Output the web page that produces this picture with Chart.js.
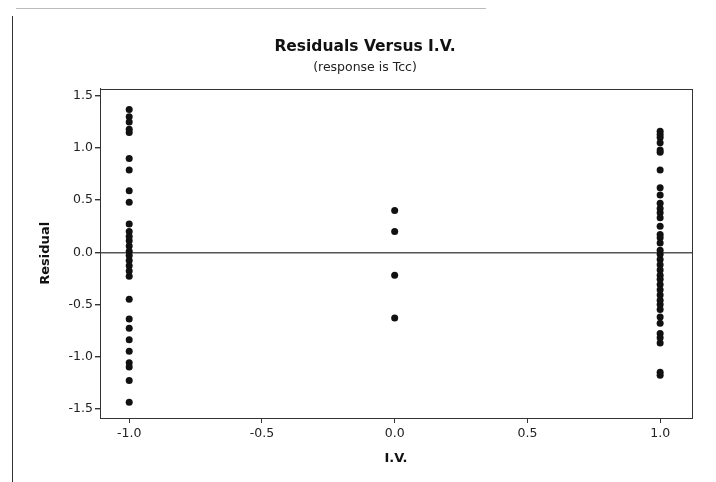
<!DOCTYPE html>
<html>
<head>
<meta charset="utf-8">
<script src="https://cdn.jsdelivr.net/npm/chart.js@4/dist/chart.umd.min.js"></script>
<style>
  html, body { margin: 0; padding: 0; background: #fff; }
  #wrap { position: relative; width: 716px; height: 482px; }
  #frameLeft { position: absolute; left: 12px; top: 16px; width: 0; height: 466px; border-left: 1px solid #333; }
  #frameTop { position: absolute; left: 16px; top: 8px; width: 470px; height: 0; border-top: 1px solid #bbb; }
  canvas { position: absolute; left: 0; top: 0; }
</style>
</head>
<body>
<div id="wrap">
  <canvas id="c" width="716" height="482"></canvas>
  <div id="frameLeft"></div>
  <div id="frameTop"></div>
</div>
<script>
// Factor levels of I.V. and the residuals observed at each level
const ivLevels = [-1, 0, 1];
const residAtMinus1 = [1.37, 1.30, 1.25, 1.18, 1.15, 0.90, 0.79, 0.59, 0.48, 0.27, 0.20, 0.15, 0.11,
  0.06, 0.01, -0.03, -0.08, -0.13, -0.18, -0.23, -0.45, -0.64, -0.73, -0.84, -0.95, -1.06, -1.10,
  -1.23, -1.44];
const residAtZero = [0.40, 0.20, -0.22, -0.63];
const residAtPlus1 = [1.16, 1.13, 1.10, 1.05, 0.98, 0.96, 0.79, 0.62, 0.55, 0.47, 0.42, 0.38, 0.33,
  0.25, 0.17, 0.14, 0.09, 0.02, -0.02, -0.07, -0.12, -0.17, -0.22, -0.26, -0.31, -0.36, -0.41,
  -0.46, -0.50, -0.55, -0.62, -0.68, -0.78, -0.82, -0.87, -1.15, -1.18];
const xTickValues = [-1.0, -0.5, 0.0, 0.5, 1.0];
const yTickValues = [-1.5, -1.0, -0.5, 0.0, 0.5, 1.0, 1.5];

const residualGroups = [residAtMinus1, residAtZero, residAtPlus1];
const points = [];
residualGroups.forEach((group, i) => {
  group.forEach(r => points.push({ x: ivLevels[i], y: r }));
});

const FONT = '"DejaVu Sans", Verdana, sans-serif';

// Box around the plotting region
const plotFrame = {
  id: 'plotFrame',
  afterDraw(chart) {
    const a = chart.chartArea, ctx = chart.ctx;
    ctx.save();
    ctx.strokeStyle = '#333';
    ctx.lineWidth = 1;
    ctx.strokeRect(Math.round(a.left) + 0.5, Math.round(a.top) + 0.5,
      Math.round(a.right - a.left), Math.round(a.bottom - a.top));
    ctx.restore();
  }
};

new Chart(document.getElementById('c'), {
  type: 'scatter',
  data: {
    datasets: [{
      data: points,
      pointRadius: 3.5,
      pointHoverRadius: 3.5,
      pointBackgroundColor: '#111',
      pointBorderColor: '#111',
      pointBorderWidth: 0
    }]
  },
  options: {
    responsive: false,
    animation: false,
    layout: { padding: { left: 38, right: 24, top: 30, bottom: 0 } },
    plugins: {
      legend: { display: false },
      tooltip: { enabled: false },
      title: {
        display: true,
        text: 'Residuals Versus I.V.',
        color: '#111',
        font: { family: FONT, size: 15.5, weight: 'bold' },
        padding: { top: 8, bottom: 2 }
      },
      subtitle: {
        display: true,
        text: '(response is Tcc)',
        color: '#222',
        font: { family: FONT, size: 12.5 },
        padding: { top: 2, bottom: 13 }
      }
    },
    scales: {
      x: {
        type: 'linear',
        min: -1.11,
        max: 1.12,
        afterBuildTicks: s => { s.ticks = xTickValues.map(v => ({ value: v })); },
        afterFit: s => { s.height = 64; },
        border: { display: true, color: '#333', width: 1 },
        grid: { drawOnChartArea: false, tickLength: 5, color: '#333', tickColor: '#333' },
        ticks: {
          color: '#222',
          padding: 3,
          font: { family: FONT, size: 12.5 },
          callback: v => Number(v).toFixed(1)
        },
        title: {
          display: true,
          text: 'I.V.',
          color: '#111',
          font: { family: FONT, size: 13, weight: 'bold' },
          padding: { top: 2, bottom: 16 }
        }
      },
      y: {
        type: 'linear',
        min: -1.59,
        max: 1.57,
        afterBuildTicks: s => { s.ticks = yTickValues.map(v => ({ value: v })); },
        afterFit: s => { s.width = 62; },
        border: { display: true, color: '#333', width: 1 },
        grid: {
          drawOnChartArea: true,
          tickLength: 5,
          tickColor: '#333',
          lineWidth: 1.4,
          color: c => (c.tick && c.tick.value === 0 ? '#555' : 'rgba(0,0,0,0)')
        },
        ticks: {
          color: '#222',
          padding: 2,
          font: { family: FONT, size: 12.5 },
          callback: v => Number(v).toFixed(1)
        },
        title: {
          display: true,
          text: 'Residual',
          color: '#111',
          font: { family: FONT, size: 13, weight: 'bold' },
          padding: { top: 0, bottom: 4 }
        }
      }
    }
  },
  plugins: [plotFrame]
});
</script>
</body>
</html>
